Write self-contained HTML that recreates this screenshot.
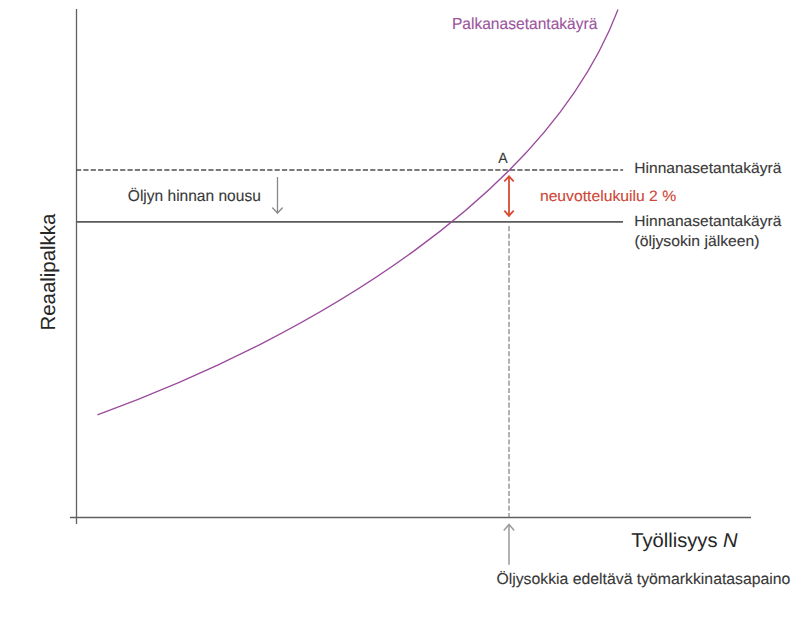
<!DOCTYPE html>
<html>
<head>
<meta charset="utf-8">
<style>
html,body{margin:0;padding:0;background:#fff;}
body{width:810px;height:623px;overflow:hidden;}
svg{display:block;}
text{font-family:"Liberation Sans", sans-serif;stroke-width:0.12;text-rendering:geometricPrecision;}
</style>
</head>
<body>
<svg width="810" height="623" viewBox="0 0 810 623">
  <rect width="810" height="623" fill="#fff"/>
  <!-- axes -->
  <line x1="76.5" y1="9" x2="76.5" y2="524" stroke="#606060" stroke-width="1.3"/>
  <line x1="70" y1="517.5" x2="751" y2="517.5" stroke="#606060" stroke-width="1.3"/>
  <!-- price setting curves -->
  <line x1="76" y1="170" x2="623.1" y2="170" stroke="#505050" stroke-width="1.6" stroke-dasharray="5.2 2.155"/>
  <line x1="76.5" y1="221.8" x2="623" y2="221.8" stroke="#5a5a5a" stroke-width="1.7"/>
  <!-- vertical dashed -->
  <line x1="509" y1="226.1" x2="509" y2="517" stroke="#999" stroke-width="1.5" stroke-dasharray="5.2 2.155"/>
  <!-- wage setting curve -->
  <path d="M97.40,414.8 C317.30,335.1 548.45,192.45 618.03,9.40" fill="none" stroke="#9a4a9c" stroke-width="1.3"/>
  <!-- red double arrow -->
  <g stroke="#dc4a32" stroke-width="1.8" fill="none" stroke-linecap="round" stroke-linejoin="round">
    <line x1="509" y1="176.3" x2="509" y2="215.8"/>
    <polyline points="504.8,180.9 509,176.3 513.2,180.9"/>
    <polyline points="504.8,211.2 509,215.8 513.2,211.2"/>
  </g>
  <!-- grey down arrow -->
  <g stroke="#888" stroke-width="1.3" fill="none" stroke-linecap="round" stroke-linejoin="round">
    <line x1="277.5" y1="177.6" x2="277.5" y2="213"/>
    <polyline points="272.7,208 277.5,213 282.3,208"/>
  </g>
  <!-- grey up arrow -->
  <g stroke="#999" stroke-width="1.5" fill="none" stroke-linecap="round" stroke-linejoin="round">
    <line x1="509" y1="524.5" x2="509" y2="564.3"/>
    <polyline points="504.2,530 509,524.5 513.8,530"/>
  </g>
  <!-- labels -->
  <text x="451.9" y="29.15" font-size="16" fill="#9c549e" stroke="#9c549e" textLength="145.5" lengthAdjust="spacingAndGlyphs">Palkanasetantakäyrä</text>
  <text x="498.2" y="162.8" font-size="15" fill="#383838" stroke="#383838" textLength="9.4" lengthAdjust="spacingAndGlyphs">A</text>
  <text x="634.3" y="173" font-size="15" fill="#383838" stroke="#383838" textLength="147" lengthAdjust="spacingAndGlyphs">Hinnanasetantakäyrä</text>
  <text x="127.8" y="200.9" font-size="15.8" fill="#383838" stroke="#383838" textLength="133" lengthAdjust="spacingAndGlyphs">Öljyn hinnan nousu</text>
  <text x="539.9" y="201.35" font-size="15" fill="#cf4537" stroke="#cf4537" textLength="136.3" lengthAdjust="spacingAndGlyphs">neuvottelukuilu 2 %</text>
  <text x="634.3" y="226.4" font-size="15" fill="#383838" stroke="#383838" textLength="147" lengthAdjust="spacingAndGlyphs">Hinnanasetantakäyrä</text>
  <text x="634.5" y="245.5" font-size="15" fill="#383838" stroke="#383838" textLength="125" lengthAdjust="spacingAndGlyphs">(öljysokin jälkeen)</text>
  <text x="0" y="0" font-size="20.5" fill="#262626" stroke="none" transform="translate(55,330.6) rotate(-90)" textLength="117" lengthAdjust="spacingAndGlyphs">Reaalipalkka</text>
  <text x="631.2" y="547" font-size="20" fill="#262626" stroke="none" textLength="106.5" lengthAdjust="spacingAndGlyphs">Työllisyys <tspan font-style="italic">N</tspan></text>
  <text x="496.4" y="584.4" font-size="15.6" fill="#383838" stroke="#383838" textLength="294" lengthAdjust="spacingAndGlyphs">Öljysokkia edeltävä työmarkkinatasapaino</text>
</svg>
</body>
</html>
